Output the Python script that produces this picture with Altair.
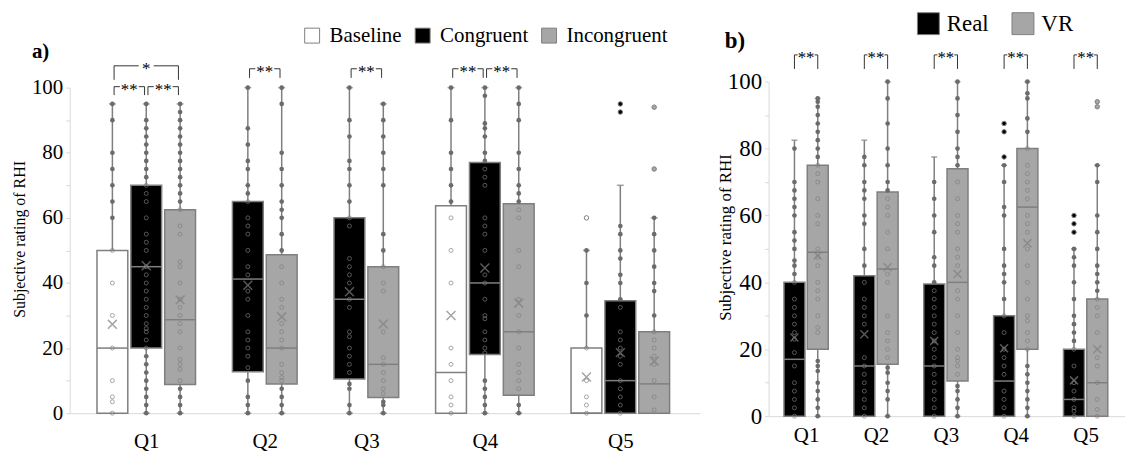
import altair as alt
import pandas as pd

FONT = "Liberation Serif"
LINE = "#7f7f7f"
DOT = "#6b6b6b"
AXIS_GRAY = "#d9d9d9"
INK = "#000000"
BRACKET_INK = "#333333"

# ---------------- panel a data ----------------
A_SERIES = ["Baseline", "Congruent", "Incongruent"]
A_COLORS = ["#ffffff", "#000000", "#a6a6a6"]
A_QUESTION = ["Q1", "Q1", "Q1", "Q2", "Q2", "Q3", "Q3", "Q4", "Q4", "Q4", "Q5", "Q5", "Q5"]
A_GROUP = ["Baseline", "Congruent", "Incongruent", "Congruent", "Incongruent",
           "Congruent", "Incongruent", "Baseline", "Congruent", "Incongruent",
           "Baseline", "Congruent", "Incongruent"]
A_LOWER_Q = [0, 20, 8.8, 12.7, 9, 10.5, 4.8, 0, 18, 5.5, 0, 0, 0]
A_MEDIAN = [20, 45, 28.7, 41.2, 20, 35, 15, 12.5, 40, 25, 0, 10, 9]
A_UPPER_Q = [50, 70, 62.5, 65, 48.7, 60, 45, 63.7, 77, 64.3, 20, 34.5, 25]
A_MEAN = [27.3, 45.3, 34.8, 39.3, 29.6, 37.3, 27.4, 30, 44.6, 33.8, 11.1, 18.6, 16]
A_WHISK_LO = [0, 0, 0, 0, 0, 0, 0, 0, 0, 0, 0, 0, 0]
A_WHISK_HI = [95, 95, 95, 100, 100, 100, 95, 100, 100, 100, 50, 70, 60]
A_POINTS = [
    [95, 90, 80, 75, 70, 65, 60, 50, 40, 30, 20, 10, 5, 3.5, 0],
    [95, 90, 87.5, 85, 82.5, 80, 77.5, 75, 72.5, 70, 67.5, 65, 60, 55, 52.5, 50, 45, 42.5, 40,
     37.5, 35, 32.5, 30, 27.5, 26, 25, 22.5, 20, 17.5, 15, 12.5, 10, 7.5, 5, 2.5, 0],
    [95, 92.5, 90, 87.5, 85, 82.5, 80, 77.5, 75, 72.5, 70, 67.5, 65, 62.5, 57.5, 55, 46.5, 45,
     40, 35, 32.5, 30, 27.5, 25, 20, 16.5, 15, 13.5, 10, 7.5, 5, 2.5, 0],
    [100, 87.5, 82.5, 77.5, 75, 70, 67.5, 65, 60, 57.5, 55, 50, 45, 42.5, 37.5, 35, 30, 25,
     22.5, 20, 17.5, 14, 10, 5, 2.5, 0],
    [100, 95, 80, 75, 70, 65, 62.5, 60, 55, 50, 45, 40, 35, 32.5, 27.5, 25, 22.5, 20, 15,
     12.5, 11, 10, 7.5, 5, 2.5, 0],
    [100, 90, 85, 77.5, 75, 70, 65, 60, 57.5, 47.5, 45, 42.5, 40, 35, 32.5, 25, 23.5, 20,
     17.5, 15, 12.5, 9, 7.5, 2.5, 0],
    [95, 90, 85, 80, 75, 70, 55, 50, 45, 40, 37.5, 25, 17, 15, 12.5, 10, 7.5, 6, 3.5, 2.5, 0],
    [100, 90, 80, 75, 70, 65, 60, 50, 40, 20, 15, 10, 5, 2.5, 0],
    [100, 97.5, 89, 87.5, 85, 80, 77.5, 75, 72.5, 70, 60, 57.5, 55, 50, 42.5, 40, 35, 30, 29,
     25, 22.5, 20, 18.5, 10, 7.5, 5, 2.5, 0],
    [100, 95, 90, 80, 75, 70, 67.5, 65, 62.5, 60, 50, 45, 35, 30, 25, 20, 15, 12.5, 10, 7.5,
     2.5, 0],
    [50, 40, 30, 20, 10, 5, 2.5, 0],
    [57.5, 55, 50, 47.5, 42.5, 40, 35, 32.5, 25, 22.5, 20, 17.5, 15, 10, 7.5, 5, 2.5, 0],
    [60, 55, 50, 45, 40, 37.5, 30, 25, 22.5, 20, 17.5, 15, 10, 5, 1],
]
A_OUTLIERS = [[], [], [], [], [], [], [], [], [], [], [60], [95, 92.5], [94, 75]]

A_BR_QUESTION = ["Q1", "Q1", "Q1", "Q2", "Q3", "Q4", "Q4"]
A_BR_FROM = ["Baseline", "Congruent", "Baseline", "Congruent", "Congruent", "Baseline", "Congruent"]
A_BR_TO = ["Congruent", "Incongruent", "Incongruent", "Incongruent", "Incongruent", "Congruent", "Incongruent"]
A_BR_TEXT = ["**", "**", "*", "**", "**", "**", "**"]
A_BR_TOP = [100.3, 100.3, 106.7, 105.8, 105.8, 105.8, 105.8]
A_BR_LEG = [97.7, 97.7, 102.4, 103.0, 103.0, 103.0, 103.0]

# ---------------- panel b data ----------------
B_SERIES = ["Real", "VR"]
B_COLORS = ["#000000", "#a6a6a6"]
B_QUESTION = ["Q1", "Q1", "Q2", "Q2", "Q3", "Q3", "Q4", "Q4", "Q5", "Q5"]
B_GROUP = ["Real", "VR", "Real", "VR", "Real", "VR", "Real", "VR", "Real", "VR"]
B_LOWER_Q = [0, 20, 0, 15.5, 0, 10.5, 0, 20, 0, 0]
B_MEDIAN = [17, 49, 15, 44, 15, 40, 10.5, 62.5, 5, 10]
B_UPPER_Q = [40, 75, 42, 67, 39.5, 74, 30, 80, 20, 35]
B_MEAN = [23.5, 48, 24.5, 44.5, 22.5, 42.5, 20.3, 51.7, 10.7, 20]
B_WHISK_LO = [0, 0, 0, 0, 0, 0, 0, 0, 0, 0]
B_WHISK_HI = [82.5, 95, 82.5, 100, 77.5, 100, 75, 100, 50, 75]
B_POINTS = [
    [80, 70, 67.5, 65, 62.5, 60, 55, 52.5, 50, 46.5, 45, 42.5, 40, 35, 32.5, 30, 27.5, 25, 23,
     19, 15, 10, 7.5, 5, 2.5, 0],
    [95, 94, 92.5, 90, 87.5, 85, 82.5, 80, 77.5, 75, 72.5, 70, 65, 60, 57.5, 50, 47.5, 45, 40,
     37.5, 35, 30, 26.5, 25, 16.5, 15, 13.5, 10, 7.5, 5, 2.5, 0],
    [77.5, 75, 70, 67.5, 65, 60, 57.5, 50, 45, 40, 35, 32.5, 30, 27.5, 17.5, 15, 12.5, 10, 7.5,
     5, 2.5, 0],
    [100, 95, 87.5, 80, 75, 70, 67.5, 65, 62.5, 60, 55, 50, 42.5, 40, 30, 25, 22.5, 20, 17.5,
     14.5, 13, 10, 7.5, 5, 0],
    [70, 65, 60, 55, 47.5, 45, 40, 37.5, 35, 32.5, 30, 27.5, 25, 22.5, 20, 17.5, 15, 12.5, 10,
     7.5, 5, 2.5, 0],
    [100, 95, 90, 85, 80, 77.5, 75, 70, 65, 60, 57.5, 55, 50, 47.5, 45, 37.5, 35, 30, 25, 20,
     17.5, 16.5, 15, 12.5, 9, 7.5, 5, 2.5, 0],
    [75, 70, 62.5, 60, 50, 45, 42.5, 40, 35, 30, 25, 20, 17.5, 15, 12.5, 7.5, 5, 2.5, 0],
    [100, 96.5, 95, 89, 85, 80, 75, 72.5, 70, 67.5, 65, 60, 57.5, 55, 50, 45, 40, 35, 30, 28.5,
     25, 22.5, 20, 15, 12.5, 10, 7.5, 5, 2.5, 0],
    [50, 47.5, 45, 40, 35, 30, 27.5, 25, 22.5, 20, 15, 10, 7.5, 5, 2.5, 1.5, 0],
    [75, 70, 60, 55, 50, 45, 42.5, 40, 37.5, 35, 32.5, 30, 25, 17.5, 15, 10, 5, 2, 0],
]
B_OUTLIERS = [[], [], [], [], [], [], [87.5, 85, 77.5], [], [60, 57.5, 55], [94, 92.5]]

B_BR_QUESTION = ["Q1", "Q2", "Q3", "Q4", "Q5"]
B_BR_FROM = ["Real", "Real", "Real", "Real", "Real"]
B_BR_TO = ["VR", "VR", "VR", "VR", "VR"]
B_BR_TEXT = ["**", "**", "**", "**", "**"]
B_BR_TOP = [108, 108, 108, 108, 108]
B_BR_LEG = [103.8, 103.8, 103.8, 103.8, 103.8]

QUESTIONS = ["Q1", "Q2", "Q3", "Q4", "Q5"]


def assign_slots(questions):
    slots, pos, prev = [], 0, None
    for q in questions:
        if prev is not None and q != prev:
            pos += 1
        slots.append(pos)
        pos += 1
        prev = q
    return slots


def build_panel(d, cfg):
    slots = assign_slots(d["question"])
    color_of = dict(zip(d["series"], d["colors"]))
    half = cfg["box_half"]
    stats = pd.DataFrame({
        "question": d["question"], "series": d["group"], "slot": slots,
        "q1": d["lo"], "med": d["med"], "q3": d["hi"], "mean": d["mean"],
        "wlo": d["wlo"], "whi": d["whi"],
    })
    stats["xl"] = stats["slot"] - half
    stats["xr"] = stats["slot"] + half

    prow, orow = [], []
    for i, s in enumerate(slots):
        for v in d["points"][i]:
            outside = v > d["hi"][i] or v < d["lo"][i]
            prow.append({"slot": s, "value": v, "outside": outside})
        for v in d["outliers"][i]:
            orow.append({"slot": s, "value": v, "fillc": color_of[d["group"][i]]})
    pts = pd.DataFrame(prow)
    outl = pd.DataFrame(orow)

    centers = {}
    for q, s in zip(d["question"], slots):
        centers.setdefault(q, []).append(s)
    center_vals = [sum(centers[q]) / len(centers[q]) for q in QUESTIONS]
    label_expr = ""
    for q, c in zip(QUESTIONS, center_vals):
        label_expr += f"datum.value == {c} ? '{q}' : "
    label_expr += "''"

    slot_of = {(q, g): s for q, g, s in zip(d["question"], d["group"], slots)}
    px_per_slot = cfg["width"] / (cfg["xdom"][1] - cfg["xdom"][0])
    brow = []
    for q, f, t, txt, top, leg in zip(d["br_q"], d["br_from"], d["br_to"], d["br_text"],
                                       d["br_top"], d["br_leg"]):
        xl = slot_of[(q, f)] + cfg["br_inset"]
        xr = slot_of[(q, t)] - cfg["br_inset"]
        xc = (xl + xr) / 2
        gap = cfg["br_gap_px"][txt] / px_per_slot
        brow.append({"xl": xl, "xr": xr, "xc": xc, "gl": xc - gap, "gr": xc + gap,
                     "top": top, "leg": leg, "label": txt})
    br = pd.DataFrame(brow)

    xscale = alt.Scale(domain=cfg["xdom"], nice=False, zero=False)
    yscale = alt.Scale(domain=[0, 100], nice=False, zero=False, range=cfg["yrange"])
    xaxis = alt.Axis(values=center_vals, labelExpr=label_expr, ticks=False, tickSize=0,
                     grid=False, domainColor=AXIS_GRAY, domainWidth=1, offset=cfg["xoffset"],
                     labelFont=FONT, labelFontSize=cfg["xlabel_size"], labelColor=INK,
                     labelPadding=cfg["xlabel_pad"], title=None)
    yaxis = alt.Axis(values=list(range(0, 101, 10)),
                     labelExpr="datum.value % 20 == 0 ? datum.label : ''",
                     grid=False, domainColor=AXIS_GRAY, domainWidth=1, tickColor=AXIS_GRAY,
                     tickSize=4, labelPadding=3, labelFont=FONT,
                     labelFontSize=cfg["ylabel_size"], labelColor=INK,
                     title="Subjective rating of RHI", titleFont=FONT,
                     titleFontSize=cfg["title_size"], titleFontWeight="normal", titleColor=INK,
                     titleAngle=-90, titleAlign="center", titleBaseline="middle",
                     titleX=cfg["title_x"], titleY=cfg["title_y"])

    def X(f):
        return alt.X(f, type="quantitative", scale=xscale, axis=xaxis)

    def Y(f):
        return alt.Y(f, type="quantitative", scale=yscale, axis=yaxis)

    base = alt.Chart(stats)
    whisk = base.mark_rule(color=LINE, strokeWidth=1.5).encode(x=X("slot"), y=Y("wlo"), y2="whi")
    cap_hi = base.mark_tick(orient="horizontal", size=cfg["cap"], thickness=1.5,
                            color=LINE).encode(x=X("slot"), y=Y("whi"))
    cap_lo = base.transform_filter("datum.wlo < datum.q1").mark_tick(
        orient="horizontal", size=cfg["cap"], thickness=1.5, color=LINE).encode(
        x=X("slot"), y=Y("wlo"))
    box = base.mark_rect(stroke=LINE, strokeWidth=1.5).encode(
        x=X("xl"), x2="xr", y=Y("q1"), y2="q3",
        fill=alt.Fill("series:N", scale=alt.Scale(domain=d["series"], range=d["colors"]),
                      legend=alt.Legend(orient="none", legendX=cfg["leg_x"],
                                        legendY=cfg["leg_y"], direction="horizontal",
                                        title=None, symbolType="square",
                                        symbolSize=cfg["sym_size"],
                                        symbolStrokeColor="#404040", symbolStrokeWidth=1,
                                        symbolOpacity=1, labelFont=FONT,
                                        labelFontSize=cfg["leg_font"], labelColor=INK,
                                        labelOffset=cfg["leg_label_off"],
                                        columnPadding=cfg["leg_col_pad"], padding=0)))
    median = base.mark_rule(color=LINE, strokeWidth=1.5).encode(x=X("xl"), x2="xr", y=Y("med"))
    pchart = alt.Chart(pts)
    pin = pchart.transform_filter("!datum.outside").mark_point(
        shape="circle", filled=False, size=16, color=LINE, strokeWidth=1).encode(
        x=X("slot"), y=Y("value"))
    pout = pchart.transform_filter("datum.outside").mark_circle(
        size=22, color=DOT, opacity=1).encode(x=X("slot"), y=Y("value"))
    outs = alt.Chart(outl).mark_point(shape="circle", filled=True, size=20, stroke=LINE,
                                      strokeWidth=1, opacity=1).encode(
        x=X("slot"), y=Y("value"), fill=alt.Fill("fillc:N", scale=None))
    means = base.mark_point(shape="M-1,-1L1,1M1,-1L-1,1", size=cfg["mean_size"], filled=False,
                            color=LINE, strokeWidth=1.5).encode(x=X("slot"), y=Y("mean"))

    bc = alt.Chart(br)
    b_left = bc.mark_rule(color=BRACKET_INK, strokeWidth=1).encode(x=X("xl"), x2="gl", y=Y("top"))
    b_right = bc.mark_rule(color=BRACKET_INK, strokeWidth=1).encode(x=X("gr"), x2="xr", y=Y("top"))
    b_legl = bc.mark_rule(color=BRACKET_INK, strokeWidth=1).encode(x=X("xl"), y=Y("leg"), y2="top")
    b_legr = bc.mark_rule(color=BRACKET_INK, strokeWidth=1).encode(x=X("xr"), y=Y("leg"), y2="top")
    b_text = bc.mark_text(font=FONT, fontSize=17, color=INK, baseline="alphabetic",
                          dy=8.5).encode(x=X("xc"), y=Y("top"), text="label:N")

    return alt.layer(whisk, cap_hi, cap_lo, box, median, pin, pout, outs, means,
                     b_left, b_right, b_legl, b_legr, b_text).properties(
        width=cfg["width"], height=cfg["height"],
        title=alt.TitleParams(text=cfg["panel"], anchor="start", frame="group", font=FONT,
                              fontSize=cfg["panel_size"], fontWeight="bold", color=INK,
                              dx=cfg["panel_dx"], dy=cfg["panel_dy"]))


panel_a = build_panel(
    dict(series=A_SERIES, colors=A_COLORS, question=A_QUESTION, group=A_GROUP, lo=A_LOWER_Q,
         med=A_MEDIAN, hi=A_UPPER_Q, mean=A_MEAN, wlo=A_WHISK_LO, whi=A_WHISK_HI,
         points=A_POINTS, outliers=A_OUTLIERS, br_q=A_BR_QUESTION, br_from=A_BR_FROM,
         br_to=A_BR_TO, br_text=A_BR_TEXT, br_top=A_BR_TOP, br_leg=A_BR_LEG),
    dict(width=633, height=336, xdom=[-1.26, 17.35], yrange=[333, 6], box_half=0.455,
         cap=7, xoffset=-3, xlabel_size=21, xlabel_pad=17, ylabel_size=21, title_size=16,
         title_x=-50, title_y=158, leg_x=233, leg_y=-57, sym_size=225, leg_font=21,
         leg_label_off=7, leg_col_pad=10, mean_size=80, br_inset=0.05,
         br_gap_px={"*": 7.5, "**": 9.5}, panel="a)", panel_size=21, panel_dx=-38,
         panel_dy=41))

panel_b = build_panel(
    dict(series=B_SERIES, colors=B_COLORS, question=B_QUESTION, group=B_GROUP, lo=B_LOWER_Q,
         med=B_MEDIAN, hi=B_UPPER_Q, mean=B_MEAN, wlo=B_WHISK_LO, whi=B_WHISK_HI,
         points=B_POINTS, outliers=B_OUTLIERS, br_q=B_BR_QUESTION, br_from=B_BR_FROM,
         br_to=B_BR_TO, br_text=B_BR_TEXT, br_top=B_BR_TOP, br_leg=B_BR_LEG),
    dict(width=358, height=336, xdom=[-1.11, 14.19], yrange=[336, 0], box_half=0.45,
         cap=6, xoffset=0, xlabel_size=21, xlabel_pad=8, ylabel_size=23, title_size=17,
         title_x=-43, title_y=156, leg_x=149, leg_y=-70, sym_size=484, leg_font=23,
         leg_label_off=7, leg_col_pad=20, mean_size=64, br_inset=0.0,
         br_gap_px={"*": 6, "**": 8.5}, panel="b)", panel_size=23, panel_dx=-44,
         panel_dy=45))

chart = alt.hconcat(panel_a, panel_b, spacing=69, bounds="flush").resolve_scale(
    fill="independent", x="independent", y="independent").resolve_legend(
    fill="independent").properties(
    padding={"left": 4, "top": 3, "right": 0, "bottom": 0}).configure_view(stroke=None)

chart.save("out.html", embed_options={"renderer": "svg", "actions": False})
